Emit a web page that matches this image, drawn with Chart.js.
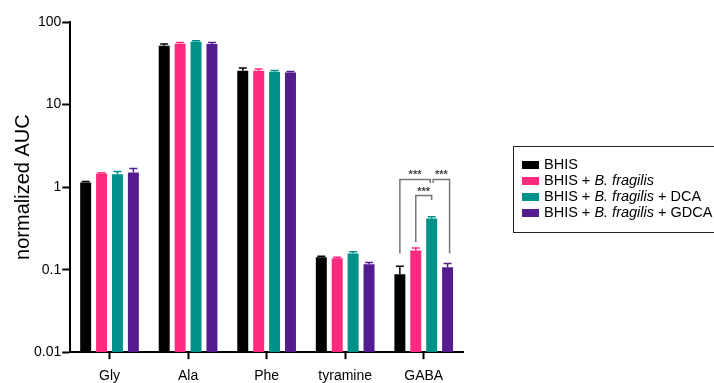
<!DOCTYPE html>
<html>
<head>
<meta charset="utf-8">
<script src="https://cdn.jsdelivr.net/npm/chart.js@4"></script>
<style>
  body { margin: 0; overflow: hidden; background: #fff; font-family: "Liberation Sans", Arial, sans-serif; }
  #wrap { position: relative; width: 714px; height: 383px; }
  #legend { position: absolute; left: 513px; top: 146px; width: 220px; height: 87px;
            border: 1.5px solid #222; box-sizing: border-box; padding: 9px 0 0 8px; font-size: 14.5px; color: #000; }
  #legend div { height: 16px; line-height: 16px; white-space: nowrap; }
  #legend span.sw { display: inline-block; width: 17px; height: 8px; margin-right: 5px; vertical-align: 0px; }
</style>
</head>
<body>
<div id="wrap">
  <canvas id="bar-chart"></canvas>
  <div id="legend">
    <div><span class="sw" style="background:#000000"></span>BHIS</div>
    <div><span class="sw" style="background:#ff2a7d"></span>BHIS + <i>B. fragilis</i></div>
    <div><span class="sw" style="background:#00918b"></span>BHIS + <i>B. fragilis</i> + DCA</div>
    <div><span class="sw" style="background:#531c8f"></span>BHIS + <i>B. fragilis</i> + GDCA</div>
  </div>
</div>
<script>
const categories = ["Gly", "Ala", "Phe", "tyramine", "GABA"];
const bhis = [1.14, 51.5, 25.7, 0.141, 0.088];
const bfrag = [1.46, 54.5, 25.7, 0.137, 0.171];
const bfragDca = [1.43, 57.6, 25.0, 0.157, 0.417];
const bfragGdca = [1.50, 54.0, 24.4, 0.116, 0.107];
// upper error bars (SD)
const bhisErr = [0.03, 2.5, 2.0, 0.004, 0.022];
const bfragErr = [0.03, 2.0, 1.2, 0.004, 0.012];
const bfragDcaErr = [0.11, 1.5, 0.8, 0.008, 0.02];
const bfragGdcaErr = [0.18, 2.5, 0.8, 0.006, 0.012];
const yTicks = [0.01, 0.1, 1, 10, 100];

// significance brackets on GABA
const sigBrackets = [
  { from: 0, to: 2, level: 1.24, legFrom: 0.157, legTo: 1.12, dx: [0, -1.5] },
  { from: 1, to: 2, level: 0.79, legFrom: 0.215, legTo: 0.70, dx: [0, 0] },
  { from: 2, to: 3, level: 1.24, legFrom: 1.12, legTo: 0.157, dx: [1.5, 2] }
];

const errs = [bhisErr, bfragErr, bfragDcaErr, bfragGdcaErr];
const colors = ["#000000", "#ff2a7d", "#00918b", "#531c8f"];

const errorBars = {
  id: "errorBars",
  afterDatasetsDraw(chart) {
    const ctx = chart.ctx;
    const y = chart.scales.y;
    chart.data.datasets.forEach((ds, i) => {
      const meta = chart.getDatasetMeta(i);
      meta.data.forEach((bar, j) => {
        const top = y.getPixelForValue(ds.data[j] + errs[i][j]);
        ctx.save();
        ctx.strokeStyle = colors[i];
        ctx.lineWidth = 1.5;
        ctx.beginPath();
        ctx.moveTo(bar.x, bar.y);
        ctx.lineTo(bar.x, top);
        ctx.moveTo(bar.x - 4, top);
        ctx.lineTo(bar.x + 4, top);
        ctx.stroke();
        ctx.restore();
      });
    });
    // brackets
    const gi = categories.indexOf("GABA");
    ctx.save();
    ctx.strokeStyle = "#777";
    ctx.fillStyle = "#444";
    ctx.lineWidth = 1.5;
    ctx.font = "bold 11px 'Liberation Sans', Arial";
    ctx.textAlign = "center";
    sigBrackets.forEach(b => {
      const x1 = chart.getDatasetMeta(b.from).data[gi].x + b.dx[0];
      const x2 = chart.getDatasetMeta(b.to).data[gi].x + b.dx[1];
      const yl = y.getPixelForValue(b.level);
      ctx.beginPath();
      ctx.moveTo(x1, y.getPixelForValue(b.legFrom));
      ctx.lineTo(x1, yl);
      ctx.lineTo(x2, yl);
      ctx.lineTo(x2, y.getPixelForValue(b.legTo));
      ctx.stroke();
      ctx.fillText("***", (x1 + x2) / 2, yl - 1);
    });
    ctx.restore();
  }
};

new Chart(document.getElementById("bar-chart"), {
  type: "bar",
  data: {
    labels: categories,
    datasets: [
      { label: "BHIS", data: bhis, backgroundColor: colors[0] },
      { label: "BHIS + B. fragilis", data: bfrag, backgroundColor: colors[1] },
      { label: "BHIS + B. fragilis + DCA", data: bfragDca, backgroundColor: colors[2] },
      { label: "BHIS + B. fragilis + GDCA", data: bfragGdca, backgroundColor: colors[3] }
    ]
  },
  options: {
    responsive: true,
    maintainAspectRatio: false,
    animation: false,
    categoryPercentage: 0.81,
    barPercentage: 0.69,
    layout: { padding: { top: 22, right: 251, left: 13, bottom: -11 } },
    plugins: { legend: { display: false }, tooltip: { enabled: false } },
    scales: {
      x: {
        grid: { display: true, drawOnChartArea: false, offset: false, tickLength: 7, tickWidth: 2, tickColor: "#000" },
        border: { display: true, color: "#000", width: 2 },
        ticks: { color: "#000", font: { family: "'Liberation Sans', Arial", size: 14 }, padding: 9 }
      },
      y: {
        type: "logarithmic",
        min: 0.01,
        max: 100,
        afterBuildTicks: axis => { axis.ticks = yTicks.map(v => ({ value: v })); },
        grid: { display: true, drawOnChartArea: false, tickLength: 8, tickWidth: 2, tickColor: "#000" },
        border: { display: true, color: "#000", width: 2 },
        ticks: { color: "#000", font: { family: "'Liberation Sans', Arial", size: 14 }, padding: 1,
                 callback: v => String(v) },
        title: { display: true, text: "normalized AUC", color: "#000",
                 font: { family: "'Liberation Sans', Arial", size: 20, lineHeight: 1 }, padding: 0 }
      }
    }
  },
  plugins: [errorBars]
});
</script>
</body>
</html>
